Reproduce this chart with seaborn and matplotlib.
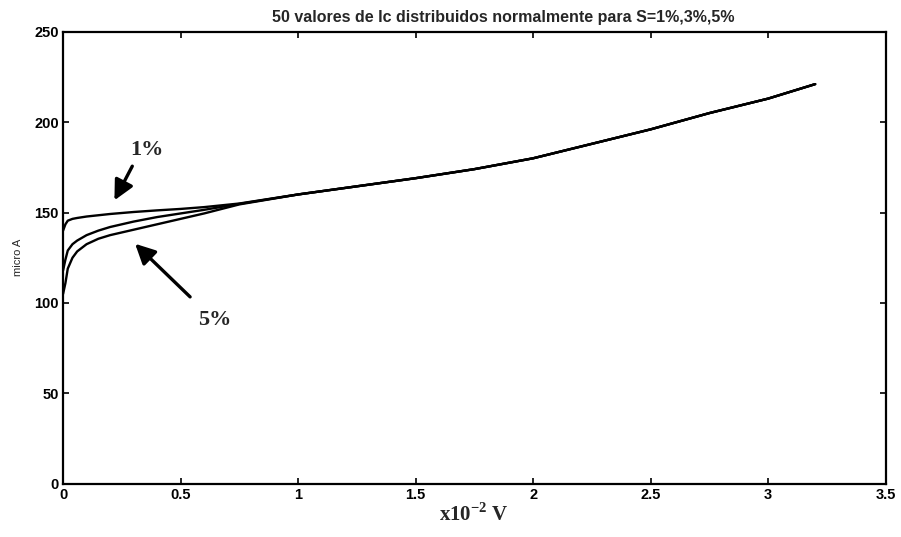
import numpy as np
import pandas as pd
import matplotlib
matplotlib.use("Agg")
import matplotlib.pyplot as plt
import seaborn as sns

# values (x in 1e-2 V, y in micro A)
voltage = [0.0, 0.01, 0.02, 0.04, 0.06, 0.1, 0.15, 0.2, 0.3, 0.4, 0.5,
           0.6, 0.75, 1.0, 1.25, 1.5, 1.75, 2.0, 2.25, 2.5, 2.75, 3.0, 3.2]
current_1 = [140, 143.5, 145.5, 146.5, 147, 147.8, 148.5, 149.2, 150.3, 151.2, 152,
             153, 155, 160, 164.5, 169, 174, 180, 188, 196, 205, 213, 221]
current_3 = [118, 124, 129, 132.5, 134.5, 137.5, 140, 142, 145, 147.5, 149.5,
             151.5, 154.8, 160, 164.5, 169, 174, 180, 188, 196, 205, 213, 221]
current_5 = [105, 111, 119, 125, 128.5, 132.5, 135.5, 137.5, 140.5, 143.5, 146.5,
             149.5, 154.5, 160, 164.5, 169, 174, 180, 188, 196, 205, 213, 221]
series_names = ["1%", "3%", "5%"]

title_text = "50 valores de Ic distribuidos normalmente para S=1%,3%,5%"
x_ticks = [0, 0.5, 1, 1.5, 2, 2.5, 3, 3.5]
y_ticks = [0, 50, 100, 150, 200, 250]


def build_frame():
    frames = []
    for name, values in zip(series_names, [current_1, current_3, current_5]):
        frames.append(pd.DataFrame({"v": voltage, "i": values, "S": name}))
    return pd.concat(frames, ignore_index=True)


def main():
    sns.set_theme(style="ticks")
    plt.rcParams["font.family"] = ["Liberation Sans", "DejaVu Sans"]
    plt.rcParams["mathtext.fontset"] = "custom"
    plt.rcParams["mathtext.rm"] = "Liberation Serif:bold"
    plt.rcParams["mathtext.bf"] = "Liberation Serif:bold"

    df = build_frame()

    fig = plt.figure(figsize=(9.01, 5.37), dpi=100)
    ax = fig.add_axes([0.070, 0.099, 0.913, 0.842])

    sns.lineplot(data=df, x="v", y="i", hue="S", units="S", estimator=None,
                 palette=["black"] * 3, linewidth=1.7, legend=False, ax=ax)

    ax.set_xlim(0, 3.5)
    ax.set_ylim(0, 250)
    ax.set_xticks(x_ticks)
    ax.set_xticklabels([f"{t:g}" for t in x_ticks], fontweight="bold", fontsize=10.5)
    ax.set_yticks(y_ticks)
    ax.set_yticklabels([str(t) for t in y_ticks], fontweight="bold", fontsize=10.5)
    ax.tick_params(direction="in", length=4, width=1.2, top=True, right=True,
                   colors="black", pad=3)
    for side in ax.spines.values():
        side.set_visible(True)
        side.set_linewidth(1.6)
        side.set_color("black")

    ax.set_title(title_text, fontsize=11.5, fontweight="bold", pad=7, x=0.535)
    ax.set_xlabel("x10$^{\\mathbf{-2}}$ V", fontsize=15, fontweight="bold",
                  labelpad=1, family="Liberation Serif")
    ax.set_ylabel("micro A", fontsize=8, labelpad=8)

    arrow = dict(arrowstyle="-|>,head_width=0.5,head_length=1.0",
                 color="black", lw=2.4)
    ax.annotate("", xy=(0.213, 155.4), xytext=(0.30, 177), arrowprops=arrow)
    ax.text(0.357, 184.5, "1%", fontsize=16, fontweight="bold",
            family="Liberation Serif", ha="center", va="center")
    ax.annotate("", xy=(0.298, 133.8), xytext=(0.549, 102.3), arrowprops=arrow)
    ax.text(0.646, 90.7, "5%", fontsize=16, fontweight="bold",
            family="Liberation Serif", ha="center", va="center")

    fig.savefig("out.png", dpi=100, facecolor="white")
    plt.close(fig)


if __name__ == "__main__":
    main()
